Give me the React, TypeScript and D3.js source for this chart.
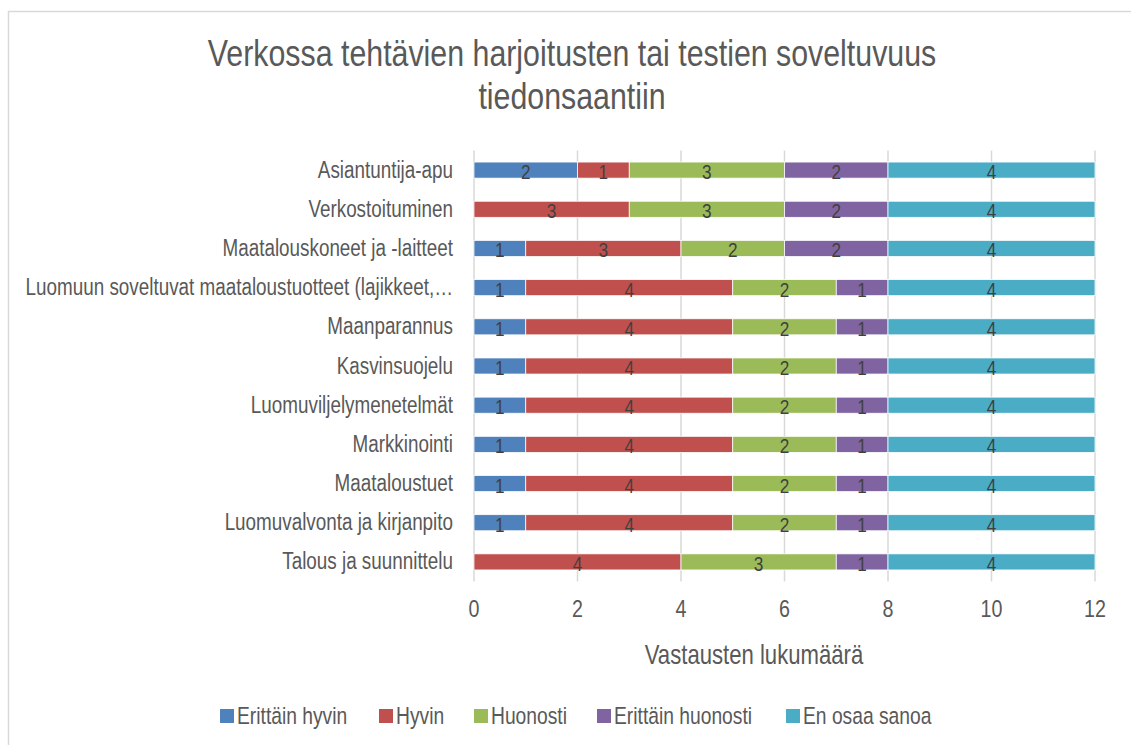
import { useRef, useEffect } from "react";
import * as d3 from "d3";

const categories = [
  "Asiantuntija-apu",
  "Verkostoituminen",
  "Maatalouskoneet ja -laitteet",
  "Luomuun soveltuvat maataloustuotteet (lajikkeet,…",
  "Maanparannus",
  "Kasvinsuojelu",
  "Luomuviljelymenetelmät",
  "Markkinointi",
  "Maataloustuet",
  "Luomuvalvonta ja kirjanpito",
  "Talous ja suunnittelu",
];

const seriesNames = ["Erittäin hyvin", "Hyvin", "Huonosti", "Erittäin huonosti", "En osaa sanoa"];
const erittainHyvin = [2, 0, 1, 1, 1, 1, 1, 1, 1, 1, 0];
const hyvin = [1, 3, 3, 4, 4, 4, 4, 4, 4, 4, 4];
const huonosti = [3, 3, 2, 2, 2, 2, 2, 2, 2, 2, 3];
const erittainHuonosti = [2, 2, 2, 1, 1, 1, 1, 1, 1, 1, 1];
const enOsaa = [4, 4, 4, 4, 4, 4, 4, 4, 4, 4, 4];
const xTicks = [0, 2, 4, 6, 8, 10, 12];

const colors = ["#4F81BD", "#C0504D", "#9BBB59", "#8064A2", "#4BACC6"];
const FONT = "'Liberation Sans', Arial, sans-serif";
const SX = 0.82; // narrow look: squeeze horizontally

export default function App() {
  const ref = useRef<SVGSVGElement | null>(null);

  useEffect(() => {
    if (!ref.current) return;
    const svg = d3.select(ref.current);
    svg.selectAll("*").remove();

    const left = 474;
    const right = 1095;
    const top = 150.5;
    const bottom = 581.5;

    const series = [erittainHyvin, hyvin, huonosti, erittainHuonosti, enOsaa];
    const rows = categories.map((c, i) => {
      const r: any = { cat: c };
      seriesNames.forEach((s, j) => (r[s] = series[j][i]));
      return r;
    });
    const stacked = d3.stack<any>().keys(seriesNames)(rows);

    const x = d3.scaleLinear().domain([0, 12]).range([left, right]);
    const y = d3.scaleBand().domain(categories).range([top, bottom]).paddingInner(0.59).paddingOuter(0.295);

    const label = (
      parent: any,
      tx: number,
      ty: number,
      txt: string,
      size: number,
      anchor: string,
      fill = "#595959"
    ) =>
      parent
        .append("text")
        .attr("transform", `translate(${tx},${ty}) scale(${SX},1)`)
        .attr("text-anchor", anchor)
        .attr("fill", fill)
        .style("font-family", FONT)
        .style("font-size", `${size}px`)
        .text(txt);

    // outer border
    svg
      .append("rect")
      .attr("x", 8.5)
      .attr("y", 11.5)
      .attr("width", 1140)
      .attr("height", 760)
      .attr("fill", "white")
      .attr("stroke", "#D9D9D9")
      .attr("stroke-width", 1.5);

    // title
    label(svg, 572, 66, "Verkossa tehtävien harjoitusten tai testien soveltuvuus", 37, "middle");
    label(svg, 572, 109, "tiedonsaantiin", 37, "middle");

    // gridlines
    svg
      .append("g")
      .selectAll("line")
      .data(xTicks)
      .join("line")
      .attr("x1", (d) => x(d))
      .attr("x2", (d) => x(d))
      .attr("y1", top)
      .attr("y2", bottom)
      .attr("stroke", "#D9D9D9")
      .attr("stroke-width", 1.5);

    // bars
    stacked.forEach((layer, j) => {
      const g = svg.append("g");
      const segs = layer.filter((d) => d[1] - d[0] > 0);
      g.selectAll("rect")
        .data(segs)
        .join("rect")
        .attr("x", (d) => x(d[0]))
        .attr("y", (d) => y(d.data.cat)!)
        .attr("width", (d) => x(d[1]) - x(d[0]))
        .attr("height", y.bandwidth())
        .attr("fill", colors[j])
        .attr("stroke", "white")
        .attr("stroke-width", 0.75);
      segs.forEach((d) => {
        label(
          g,
          x((d[0] + d[1]) / 2),
          y(d.data.cat)! + y.bandwidth() / 2 + 9,
          String(d[1] - d[0]),
          21,
          "middle",
          "#404040"
        );
      });
    });

    // category labels
    const cg = svg.append("g");
    categories.forEach((c) => {
      label(cg, 453, y(c)! + y.bandwidth() / 2 + 7.5, c, 23, "end");
    });

    // x tick labels
    const tg = svg.append("g");
    xTicks.forEach((t) => label(tg, x(t), 617, String(t), 24, "middle"));

    label(svg, 754, 664, "Vastausten lukumäärä", 27, "middle");

    // legend
    const legendX = [220, 379, 474, 597, 786];
    const lg = svg.append("g");
    seriesNames.forEach((s, j) => {
      lg.append("rect")
        .attr("x", legendX[j])
        .attr("y", 709)
        .attr("width", 14)
        .attr("height", 14)
        .attr("fill", colors[j]);
      label(lg, legendX[j] + 17, 724, s, 23.5, "start");
    });
  }, []);

  return (
    <svg
      ref={ref}
      width={1131}
      height={745}
      style={{ position: "absolute", left: 0, top: 0, background: "white" }}
    />
  );
}
